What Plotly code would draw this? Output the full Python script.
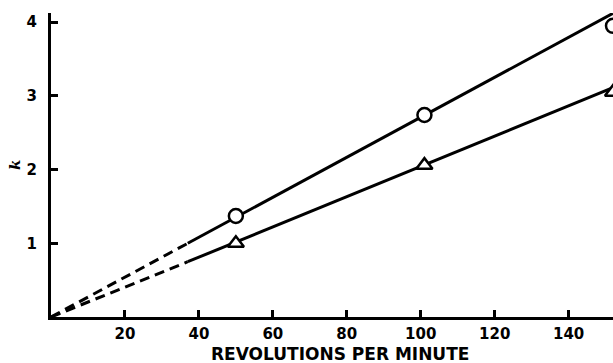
import plotly.graph_objects as go

# --- data ---
rpm_points = [50, 101, 152]
k_circle = [1.37, 2.74, 3.95]
k_triangle = [1.00, 2.06, 3.05]

# fitted lines (solid part) and extrapolation to origin (dashed part)
rpm_fit = [37, 152]
k_fit_circle = [1.00, 4.12]
k_fit_triangle = [0.75, 3.11]
rpm_extrap = [0, 37]
k_extrap_circle = [0, 1.00]
k_extrap_triangle = [0, 0.75]

x_ticks = [20, 40, 60, 80, 100, 120, 140]
y_ticks = [1, 2, 3, 4]

x_title = "REVOLUTIONS PER MINUTE"
y_title = "k"

BLACK = "#000000"
fig = go.Figure()

for kk in (k_extrap_circle, k_extrap_triangle):
    fig.add_trace(go.Scatter(x=rpm_extrap, y=kk, mode="lines",
                             line=dict(color=BLACK, width=3, dash="10px,6px"),
                             showlegend=False, hoverinfo="skip"))
for kk in (k_fit_circle, k_fit_triangle):
    fig.add_trace(go.Scatter(x=rpm_fit, y=kk, mode="lines",
                             line=dict(color=BLACK, width=3),
                             showlegend=False, hoverinfo="skip"))

fig.add_trace(go.Scatter(x=rpm_points, y=k_circle, mode="markers",
                         marker=dict(symbol="circle", size=14, color="white",
                                     line=dict(color=BLACK, width=2.5)),
                         showlegend=False))
fig.add_trace(go.Scatter(x=rpm_points, y=k_triangle, mode="markers",
                         marker=dict(symbol="triangle-up", size=14, color="white",
                                     line=dict(color=BLACK, width=2.5)),
                         showlegend=False))

tickfont = dict(family="DejaVu Sans, sans-serif", size=15,
                color=BLACK, weight="bold")

PLOT_H = 317  # paper height in px (figure height minus bottom margin)
TOP_PX = 13   # y pixel where the vertical axis ends
fig.update_xaxes(range=[0, 152], tickmode="array", tickvals=x_ticks,
                 ticktext=[str(v) for v in x_ticks],
                 ticks="inside", ticklen=7, tickwidth=3, tickcolor=BLACK,
                 showline=True, linewidth=3, linecolor=BLACK,
                 showgrid=False, zeroline=False, tickfont=tickfont,
                 ticklabelstandoff=1, automargin=False)
fig.update_yaxes(range=[0, 4.124], domain=[0, (PLOT_H - TOP_PX) / PLOT_H],
                 tickmode="array", tickvals=y_ticks,
                 ticktext=[str(v) for v in y_ticks],
                 ticks="inside", ticklen=7, tickwidth=3, tickcolor=BLACK,
                 showline=True, linewidth=3, linecolor=BLACK,
                 showgrid=False, zeroline=False, tickfont=tickfont,
                 ticklabelstandoff=8, automargin=False)

fig.add_annotation(text=x_title, xref="paper", yref="paper",
                   x=(340 - 51) / 562, y=(317 - 354) / 317,
                   xanchor="center", yanchor="middle", showarrow=False,
                   font=dict(family="DejaVu Sans, sans-serif", size=17,
                             color=BLACK, weight="bold"))
fig.add_annotation(text="<i>" + y_title + "</i>", xref="paper", yref="paper",
                   x=(15 - 51) / 562, y=(317 - 165) / 317,
                   xanchor="center", yanchor="middle",
                   textangle=-90, showarrow=False,
                   font=dict(family="DejaVu Serif, serif", size=15, color=BLACK,
                             weight="bold"))

fig.update_layout(width=613, height=363,
                  margin=dict(l=51, r=0, t=0, b=46),
                  plot_bgcolor="white", paper_bgcolor="white")

fig.write_html("out.html", config={"displayModeBar": False},
               post_script="document.body.style.margin='0';document.body.style.padding='0';")
